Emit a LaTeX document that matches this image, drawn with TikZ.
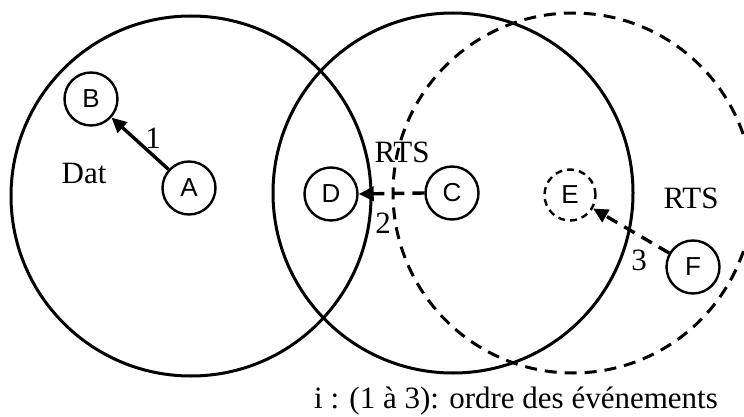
\documentclass[tikz,border=0pt]{standalone}
\usepackage{fontspec}
\setmainfont{Liberation Serif}
\setsansfont{Liberation Sans}
\usetikzlibrary{arrows.meta}
\tikzset{
  bigring/.style={line width=3pt},
  station/.style={circle,draw,line width=2.4pt,minimum size=53pt,inner sep=0pt,font=\sffamily\fontsize{26}{30}\selectfont},
  dashring/.style={dash pattern=on 12pt off 8pt},
  smalldash/.style={dash pattern=on 7pt off 5pt},
  msg/.style={line width=3.4pt,-{Triangle[length=15pt,width=14pt]}},
  lbl/.style={anchor=base,inner sep=0pt,font=\fontsize{31}{36}\selectfont}
}
\begin{document}
\begin{tikzpicture}[x=1pt,y=-1pt]
\useasboundingbox (0,0) rectangle (744,417);
\fill[white] (0,0) rectangle (744,417);
\begin{scope}
\clip (0,0) rectangle (744,417);
\draw[bigring] (191,196) circle[radius=180pt];
\draw[bigring] (453,193) circle[radius=180pt];
\draw[bigring,dashring] (573,193) circle[radius=180pt];
\end{scope}
\node[station] (B) at (91,99) {B};
\node[station] (A) at (189,188) {A};
\node[station] (D) at (331,194) {D};
\node[station] (C) at (452,193) {C};
\node[station,smalldash,minimum size=51pt] (E) at (570,195) {E};
\node[station] (F) at (693,267) {F};
\draw[msg] (A) -- (B);
\draw[msg,dashring] (C.west) -- (D.east);
\draw[msg,dashring] (F) -- (E);
\node[lbl] (n1) at (153,148) {1};
\node[lbl] (n2) at (383,233) {2};
\node[lbl] (n3) at (639,270) {3};
\node[lbl] (dat) at (84,183) {Dat};
\node[lbl] (rts1) at (402,162) {RTS};
\node[lbl] (rts2) at (691,208) {RTS};
\node[lbl] (legend) at (516,408) {i : (1 à 3): ordre des événements};
\end{tikzpicture}
\end{document}
